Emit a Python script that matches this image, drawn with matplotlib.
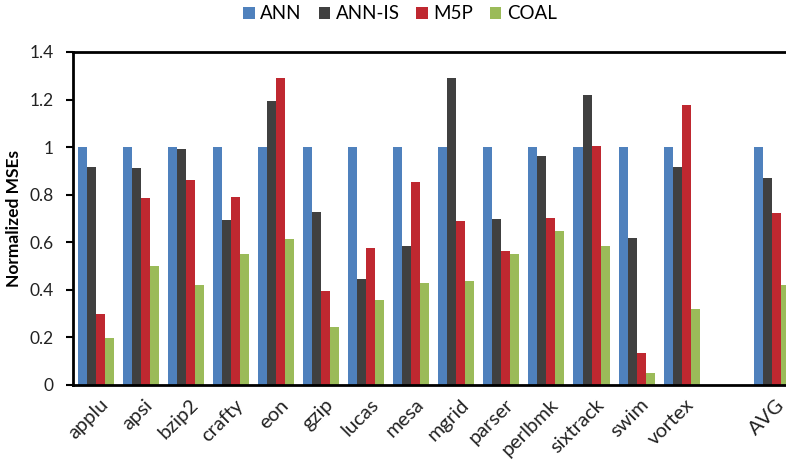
import matplotlib
matplotlib.use("Agg")
import matplotlib.pyplot as plt
import numpy as np

plt.rcParams['font.family'] = ['Lato', 'DejaVu Sans']

# 数据
categories = ['applu', 'apsi', 'bzip2', 'crafty', 'eon', 'gzip', 'lucas', 'mesa',
              'mgrid', 'parser', 'perlbmk', 'sixtrack', 'swim', 'vortex', '', 'AVG']
series_names = ['ANN', 'ANN-IS', 'M5P', 'COAL']
ann = [1, 1, 1, 1, 1, 1, 1, 1, 1, 1, 1, 1, 1, 1, None, 1]
ann_is = [0.916, 0.911, 0.992, 0.692, 1.195, 0.727, 0.446, 0.584,
          1.290, 0.699, 0.963, 1.219, 0.618, 0.916, None, 0.870]
m5p = [0.297, 0.786, 0.860, 0.790, 1.290, 0.397, 0.577, 0.855,
       0.688, 0.563, 0.702, 1.005, 0.133, 1.177, None, 0.723]
coal = [0.199, 0.499, 0.419, 0.551, 0.612, 0.244, 0.357, 0.427,
        0.437, 0.551, 0.646, 0.584, 0.049, 0.318, None, 0.420]
colors = ['#4F81BD', '#404040', '#BF2830', '#9BBB59']

fig = plt.figure(figsize=(7.86, 4.62), dpi=100)
ax = fig.add_axes([0.0929, 0.1667, 0.9178, 0.7208])

x = np.arange(len(categories))
w = 0.2
for i, (name, vals) in enumerate(zip(series_names, [ann, ann_is, m5p, coal])):
    v = np.array([np.nan if a is None else a for a in vals], dtype=float)
    ax.bar(x + (i - 1.5) * w, v, width=w, color=colors[i], label=name, zorder=2)

ax.set_xlim(-0.5, len(categories) - 0.5)
ax.set_ylim(0, 1.4)
yt = [0, 0.2, 0.4, 0.6, 0.8, 1.0, 1.2, 1.4]
ax.set_yticks(yt)
ax.set_yticklabels(['0', '0.2', '0.4', '0.6', '0.8', '1', '1.2', '1.4'], fontsize=12.5, color='#222222')
ax.set_xticks(x + 0.08)
ax.set_xticklabels(categories, rotation=45, ha='right', rotation_mode='anchor', fontsize=14.5,
                   color='#222222')
ax.tick_params(axis='x', length=0, pad=8)
ax.tick_params(axis='y', length=5, width=1.5, direction='out', pad=9)
ax.set_ylabel('Normalized MSEs', fontsize=12.5, fontweight='bold', labelpad=5)

for s in ['top', 'left', 'bottom']:
    ax.spines[s].set_linewidth(2)
ax.spines['right'].set_visible(False)

fig.legend(loc='upper center', bbox_to_anchor=(0.509, 1.025), ncol=4, frameon=False,
           fontsize=13.5, handlelength=0.6, handleheight=0.6, handletextpad=0.3, columnspacing=0.9)

plt.savefig('out.png', dpi=100)
